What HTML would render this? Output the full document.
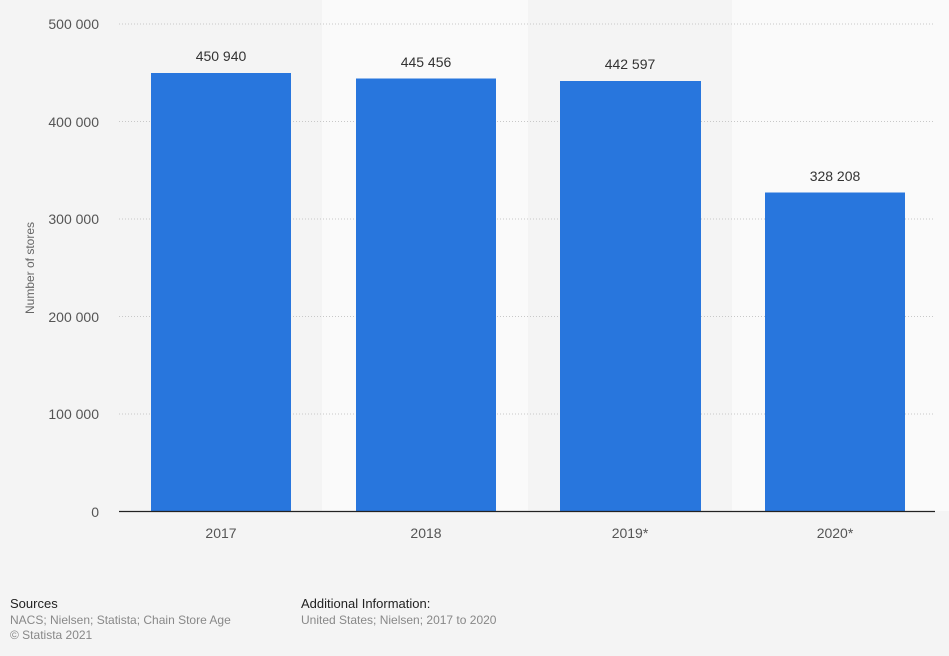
<!DOCTYPE html>
<html><head><meta charset="utf-8"><style>
html,body{margin:0;padding:0;background:#f4f4f4;}
svg{display:block;font-family:"Liberation Sans",sans-serif;}
</style></head><body>
<svg width="949" height="656" viewBox="0 0 949 656">
<rect width="949" height="656" fill="#f4f4f4"/>
<rect x="322" y="0" width="206" height="511" fill="#fafafa"/>
<rect x="732" y="0" width="217" height="511" fill="#fafafa"/>
<g stroke="#c8c8c8" stroke-width="1" stroke-dasharray="1,2">
<line x1="119" x2="935" y1="24" y2="24"/>
<line x1="119" x2="935" y1="121.5" y2="121.5"/>
<line x1="119" x2="935" y1="219" y2="219"/>
<line x1="119" x2="935" y1="316.5" y2="316.5"/>
<line x1="119" x2="935" y1="414" y2="414"/>
</g>
<g font-size="14" fill="#555" text-anchor="end">
<text x="99" y="29">500 000</text>
<text x="99" y="127">400 000</text>
<text x="99" y="224">300 000</text>
<text x="99" y="322">200 000</text>
<text x="99" y="419">100 000</text>
<text x="99" y="517">0</text>
</g>
<text transform="translate(34,268) rotate(-90)" font-size="12" fill="#666" text-anchor="middle">Number of stores</text>
<g fill="#2876dd">
<rect x="151" y="73" width="140" height="438"/>
<rect x="356" y="78.5" width="140" height="432.5"/>
<rect x="560" y="81" width="141" height="430"/>
<rect x="765" y="192.5" width="140" height="318.5"/>
</g>
<line x1="119" x2="935" y1="511.5" y2="511.5" stroke="#222" stroke-width="1.2"/>
<g font-size="14" fill="#333" text-anchor="middle">
<text x="221" y="61">450 940</text>
<text x="426" y="67">445 456</text>
<text x="630" y="69">442 597</text>
<text x="835" y="181">328 208</text>
</g>
<g font-size="14" fill="#555" text-anchor="middle">
<text x="221" y="538">2017</text>
<text x="426" y="538">2018</text>
<text x="630" y="538">2019*</text>
<text x="835" y="538">2020*</text>
</g>
<text x="10" y="608" font-size="13" fill="#222">Sources</text>
<text x="10" y="624" font-size="12" fill="#888">NACS; Nielsen; Statista; Chain Store Age</text>
<text x="10" y="639" font-size="12" fill="#888">© Statista 2021</text>
<text x="301" y="608" font-size="13" fill="#222">Additional Information:</text>
<text x="301" y="624" font-size="12" fill="#888">United States; Nielsen; 2017 to 2020</text>
</svg>
</body></html>
